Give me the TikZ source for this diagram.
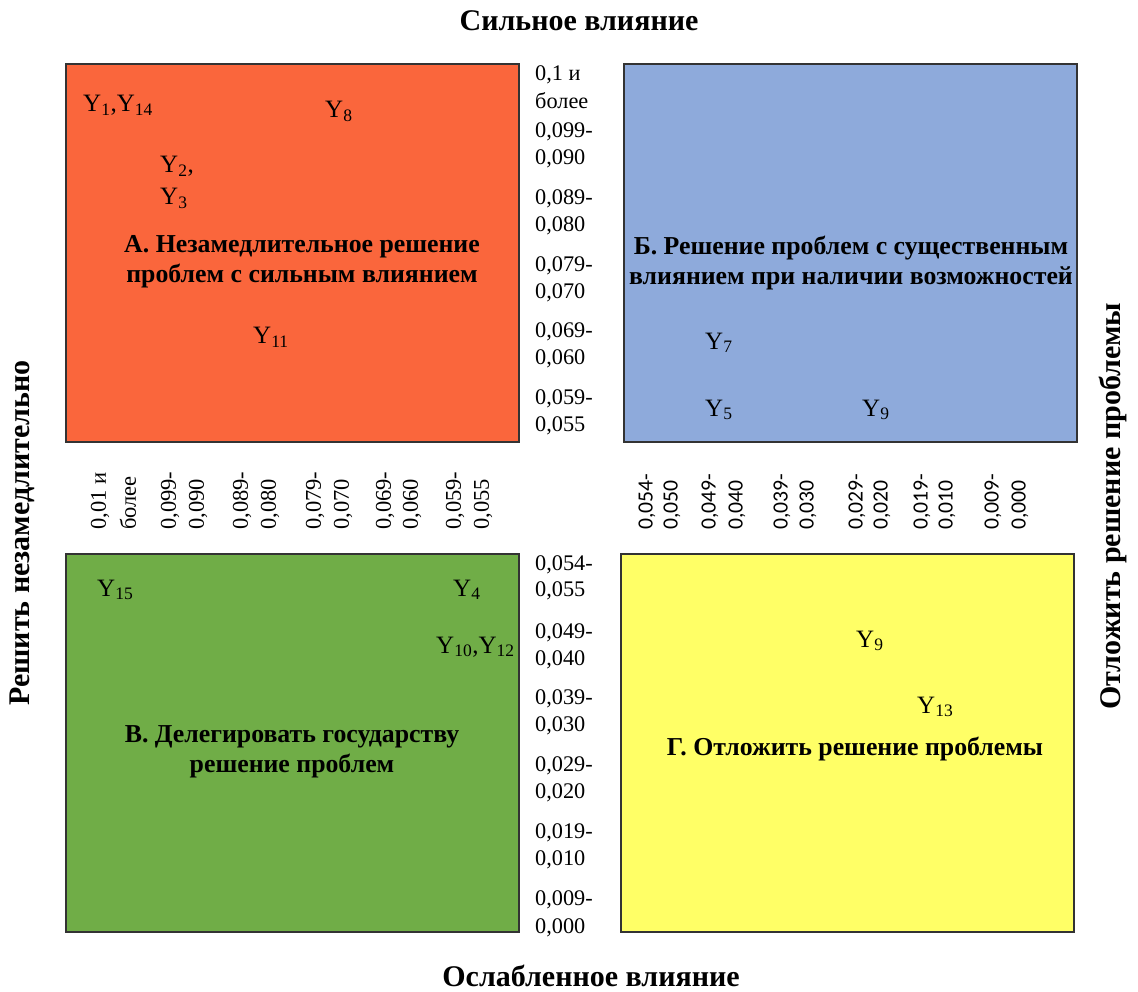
\documentclass[tikz,border=0pt]{standalone}
\usepackage{fontspec}
\setmainfont{Liberation Serif}
\newfontfamily\calibrifont{Carlito}
\definecolor{qA}{HTML}{FA663C}
\definecolor{qB}{HTML}{8EAADB}
\definecolor{qC}{HTML}{70AD47}
\definecolor{qD}{HTML}{FFFF66}
\begin{document}
\begin{tikzpicture}[x=1pt,y=-1pt,
  quad/.style={draw=black!80, line width=1.2pt, inner sep=0pt, outer sep=0pt,
    minimum width=453pt, minimum height=378pt, anchor=north west},
  axistitle/.style={font=\fontsize{30}{34}\selectfont\bfseries, inner sep=0pt},
  quadlabel/.style={font=\fontsize{25.8}{30}\selectfont\bfseries, align=center, inner sep=0pt},
  item/.style={font=\fontsize{25}{28}\selectfont, anchor=base west, inner sep=0pt},
  tick/.style={font=\fontsize{22.3}{24}\selectfont, anchor=west, inner sep=0pt},
  rtick/.style={font=\fontsize{22.5}{24}\selectfont, anchor=west, rotate=90, inner sep=0pt},
]
\useasboundingbox (0,0) rectangle (1138,992);

% four quadrants
\node[quad, fill=qA] (qa) at (66,64) {};
\node[quad, fill=qB] (qb) at (624,64) {};
\node[quad, fill=qC] (qc) at (66,554) {};
\node[quad, fill=qD] (qd) at (621,554) {};

% axis titles
\node[axistitle, anchor=base] (top) at (579,31) {Сильное влияние};
\node[axistitle, anchor=base] (bottom) at (591,986) {Ослабленное влияние};
\node[axistitle, rotate=90] (left) at (22,533) {Решить незамедлительно};
\node[axistitle, rotate=90] (right) at (1113,506) {Отложить решение проблемы};

% quadrant captions
\node[quadlabel] (la) at (302,262) {А. Незамедлительное решение\\проблем с сильным влиянием};
\node[quadlabel] (lb) at (851,263) {Б. Решение проблем с существенным\\влиянием при наличии возможностей};
\node[quadlabel] (lc) at (292,752) {В. Делегировать государству\\решение проблем};
\node[quadlabel, anchor=base] (ld) at (855,755) {Г. Отложить решение проблемы};

% factors in quadrant A
\node[item] (y1) at (83,112) {Y\textsubscript{1},Y\textsubscript{14}};
\node[item] (y8) at (325,118) {Y\textsubscript{8}};
\node[item] (y2) at (160,173) {Y\textsubscript{2},};
\node[item] (y3) at (160,205) {Y\textsubscript{3}};
\node[item] (y11) at (253,344) {Y\textsubscript{11}};
% factors in quadrant B
\node[item] (y7) at (705,349) {Y\textsubscript{7}};
\node[item] (y5) at (705,416) {Y\textsubscript{5}};
\node[item] (y9b) at (862,416) {Y\textsubscript{9}};
% factors in quadrant C
\node[item] (y15) at (97,596) {Y\textsubscript{15}};
\node[item] (y4) at (453,596) {Y\textsubscript{4}};
\node[item] (y10) at (436,653) {Y\textsubscript{10},Y\textsubscript{12}};
% factors in quadrant D
\node[item] (y9d) at (856,647) {Y\textsubscript{9}};
\node[item] (y13) at (917,713) {Y\textsubscript{13}};

% vertical scale, upper half
\foreach \t/\y [count=\i] in {{0,1 и}/75, более/101, {0,099-}/132, {0,090}/159,
    {0,089-}/199, {0,080}/226, {0,079-}/266, {0,070}/293,
    {0,069-}/332, {0,060}/359, {0,059-}/399, {0,055}/426}
  \node[tick] (vu\i) at (535,\y) {\t};
% vertical scale, lower half
\foreach \t/\y [count=\i] in {{0,054-}/565, {0,055}/591, {0,049-}/633, {0,040}/660,
    {0,039-}/699, {0,030}/726, {0,029-}/766, {0,020}/793,
    {0,019-}/833, {0,010}/860, {0,009-}/900, {0,000}/928}
  \node[tick] (vl\i) at (535,\y) {\t};

% horizontal scale, left half
\foreach \t/\x [count=\i] in {{0,01 и}/100, более/128, {0,099-}/170, {0,090}/198,
    {0,089-}/242, {0,080}/270, {0,079-}/315, {0,070}/343,
    {0,069-}/385, {0,060}/412, {0,059-}/455, {0,055}/483}
  \node[rtick] (hl\i) at (\x,530) {\t};
% horizontal scale, right half
\foreach \t/\x [count=\i] in {{0,054-}/647, {0,050}/672, {0,049-}/710, {0,040}/737,
    {0,039-}/782, {0,030}/808, {0,029-}/857, {0,020}/882,
    {0,019-}/922, {0,010}/947, {0,009-}/993, {0,000}/1020}
  \node[rtick, font=\fontsize{21.7}{24}\calibrifont] (hr\i) at (\x,530) {\t};
\end{tikzpicture}
\end{document}
